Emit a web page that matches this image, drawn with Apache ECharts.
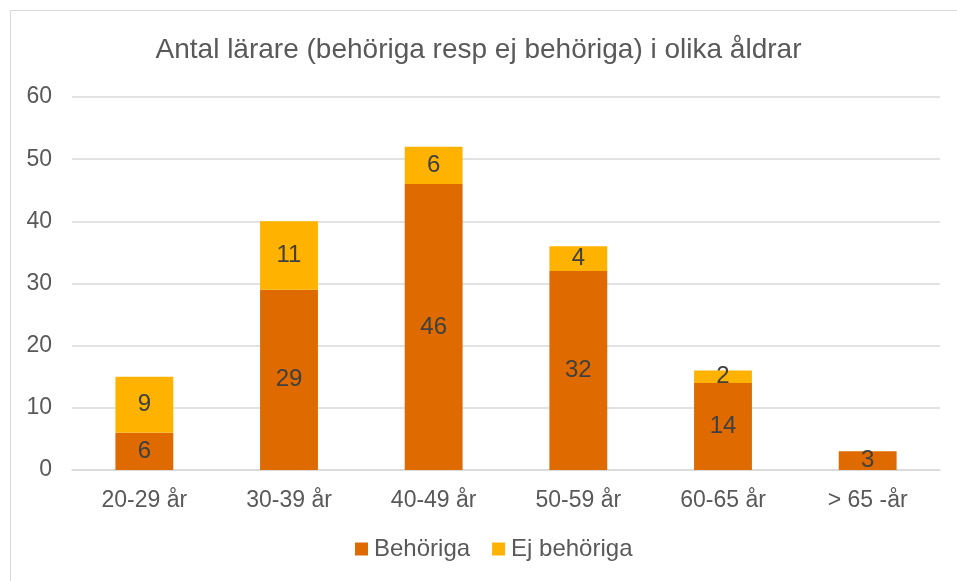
<!DOCTYPE html>
<html>
<head>
<meta charset="utf-8">
<script src="https://cdn.jsdelivr.net/npm/echarts@6/dist/echarts.min.js"></script>
<style>
  html, body { margin: 0; padding: 0; background: #fff; }
  #frame { position: absolute; left: 10px; top: 10px; width: 957px; height: 581px; border: 1px solid #d9d9d9; box-sizing: border-box; }
  #chart { position: absolute; left: 0; top: 0; width: 957px; height: 581px; }
</style>
</head>
<body>
<div id="frame"></div>
<div id="chart"></div>
<script>
const categories = ['20-29 år', '30-39 år', '40-49 år', '50-59 år', '60-65 år', '> 65 -år']
const behoriga = [6, 29, 46, 32, 14, 3]
const ejBehoriga = [9, 11, 6, 4, 2, null]

const font = 'Liberation Sans, Arial, sans-serif'
const labelStyle = {
  show: true,
  position: 'inside',
  color: '#404040',
  fontSize: 24,
  fontFamily: font
}

const chart = echarts.init(document.getElementById('chart'))
chart.setOption({
  animation: false,
  title: {
    text: 'Antal lärare (behöriga resp ej behöriga) i olika åldrar',
    left: 'center',
    top: 31,
    textStyle: { color: '#595959', fontSize: 28, fontWeight: 'normal', fontFamily: font }
  },
  legend: {
    bottom: 15,
    left: 350,
    itemWidth: 13,
    itemHeight: 13,
    itemGap: 22,
    icon: 'rect',
    textStyle: { color: '#595959', fontSize: 24, fontFamily: font, padding: [0, 0, 0, 1] },
    data: ['Behöriga', 'Ej behöriga']
  },
  grid: { left: 72, right: 17, top: 97, bottom: 111 },
  xAxis: {
    type: 'category',
    data: categories,
    axisLine: { lineStyle: { color: '#d9d9d9', width: 1.5 } },
    axisTick: { show: false },
    axisLabel: { color: '#595959', fontSize: 23, fontFamily: font, margin: 19 }
  },
  yAxis: {
    type: 'value',
    min: 0,
    max: 60,
    interval: 10,
    axisLine: { show: false },
    axisTick: { show: false },
    splitLine: { lineStyle: { color: '#d9d9d9', width: 1.5 } },
    axisLabel: { color: '#595959', fontSize: 23, fontFamily: font, margin: 20 }
  },
  series: [
    {
      name: 'Behöriga',
      type: 'bar',
      stack: 'total',
      barWidth: '40%',
      itemStyle: { color: '#DE6A00' },
      label: labelStyle,
      data: behoriga
    },
    {
      name: 'Ej behöriga',
      type: 'bar',
      stack: 'total',
      barWidth: '40%',
      itemStyle: { color: '#FFB300' },
      label: labelStyle,
      data: ejBehoriga
    }
  ]
})
</script>
</body>
</html>
